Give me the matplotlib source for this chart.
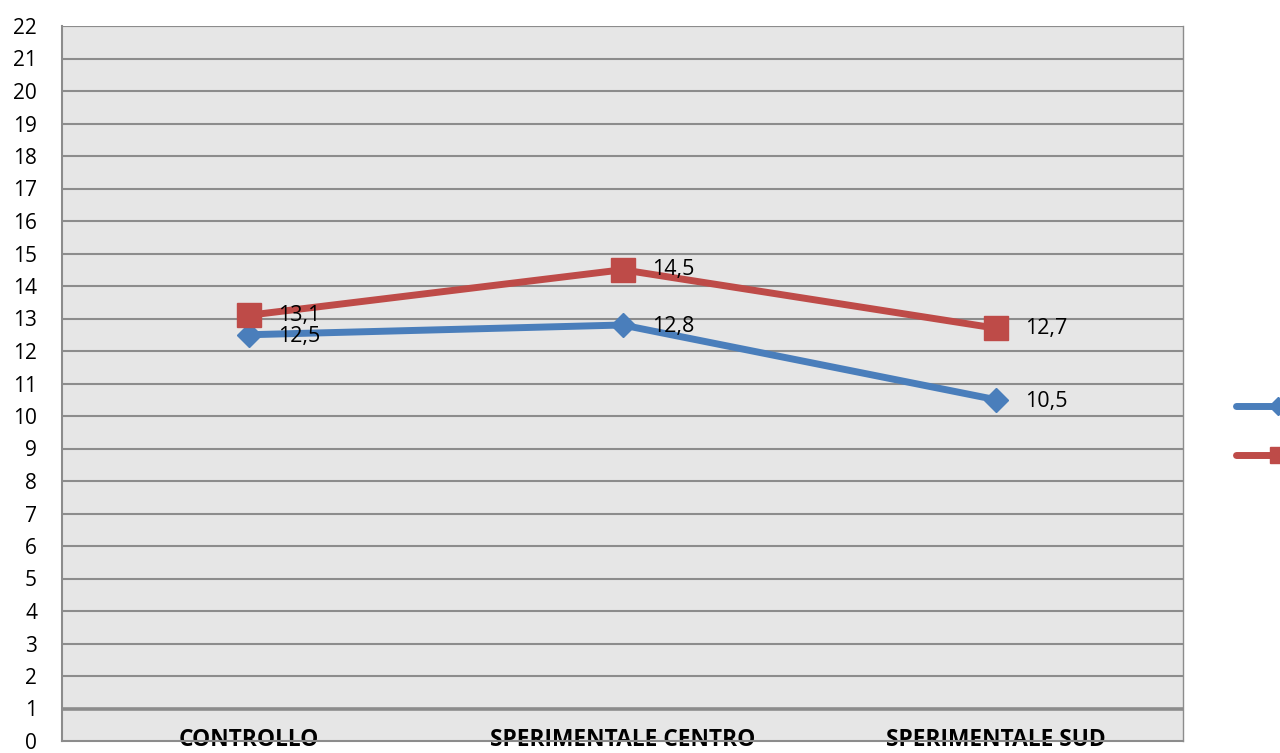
import matplotlib
matplotlib.use("Agg")
import matplotlib.pyplot as plt
from matplotlib.lines import Line2D

categories = ["CONTROLLO", "SPERIMENTALE CENTRO", "SPERIMENTALE SUD"]
serie1 = [12.5, 12.8, 10.5]
serie2 = [13.1, 14.5, 12.7]
yticks = list(range(0, 23))

blue = "#4a7ebb"
red = "#be4b48"
grid_c = "#8c8c8c"

plt.rcParams['font.family'] = ['Open Sans', 'DejaVu Sans']

fig = plt.figure(figsize=(12.8, 7.53), dpi=100)
ax = fig.add_axes([62/1280, 1-741/753, (1183-62)/1280, (741-26)/753])
ax.set_facecolor("#e6e6e6")

x = list(range(len(categories)))
ax.set_xlim(-0.5, len(categories)-0.5)
ax.set_ylim(0, 22)
ax.set_yticks(yticks)
ax.set_yticklabels([str(v) for v in yticks])
for v in yticks[1:]:
    ax.axhline(v, color=grid_c, lw=2.6 if v == 1 else 1.5, zorder=1)

ax.plot(x, serie1, color=blue, lw=5, marker='D', ms=12.5, mec=blue, mfc=blue,
        solid_capstyle='round', zorder=3)
ax.plot(x, serie2, color=red, lw=5, marker='s', ms=17.5, mec=red, mfc=red,
        solid_capstyle='round', zorder=4)

for xi, v in zip(x, serie1):
    ax.annotate(f"{v:.1f}".replace('.', ','), (xi, v), xytext=(21, -1),
                textcoords='offset points', va='center', ha='left', fontsize=15.5, zorder=5)
for xi, v in zip(x, serie2):
    ax.annotate(f"{v:.1f}".replace('.', ','), (xi, v), xytext=(21, 0),
                textcoords='offset points', va='center', ha='left', fontsize=15.5, zorder=5)

ax.set_xticks(x)
ax.set_xticklabels(categories, fontweight='bold', fontsize=16.4)
ax.tick_params(axis='x', length=0, pad=-9)
ax.tick_params(axis='y', length=0, pad=18, labelsize=15)
for lbl in ax.get_xticklabels():
    lbl.set_zorder(6)

ax.spines['top'].set_visible(False)
ax.spines['right'].set_color(grid_c)
ax.spines['right'].set_linewidth(1.0)
ax.spines['left'].set_color(grid_c)
ax.spines['left'].set_linewidth(1.5)
ax.spines['bottom'].set_color(grid_c)
ax.spines['bottom'].set_linewidth(1.5)
ax.axhline(22, color=grid_c, lw=1.5, zorder=1)

handles = [Line2D([], [], color=blue, lw=5, marker='D', ms=9, solid_capstyle='round'),
           Line2D([], [], color=red, lw=5, marker='s', ms=12, solid_capstyle='round')]
fig.legend(handles, ["", ""], loc='upper left', bbox_to_anchor=(1236/1280, 1-399/753),
           frameon=False, handlelength=4.3, borderpad=0, borderaxespad=0,
           labelspacing=1.6, fontsize=14, handletextpad=0.5)

fig.savefig("out.png", dpi=100)
